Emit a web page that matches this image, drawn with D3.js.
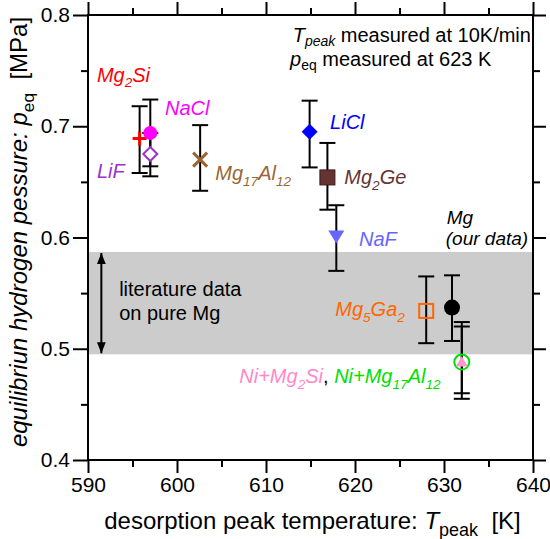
<!DOCTYPE html>
<html>
<head>
<meta charset="utf-8">
<script src="https://cdn.jsdelivr.net/npm/d3@7"></script>
<style>
  html, body { margin: 0; padding: 0; background: #fff; }
  svg text { font-family: "Liberation Sans", Arial, sans-serif; }
</style>
</head>
<body>
<svg id="chart" width="550" height="539"></svg>
<script>
// additives, desorption peak temperature [K] and equilibrium pressure [MPa]
const names = ["Mg2Si", "NaCl", "LiF", "Mg17Al12", "LiCl", "Mg2Ge", "NaF", "Mg5Ga2", "Mg", "Ni+Mg2Si", "Ni+Mg17Al12"];
const tPeak = [595.8, 597.0, 597.0, 602.6, 614.9, 616.9, 617.9, 628.0, 630.9, 632.0, 632.0];
const pEq   = [0.689, 0.694, 0.675, 0.670, 0.695, 0.654, 0.601, 0.534, 0.537, 0.488, 0.488];
const pLow  = [0.658, 0.655, 0.664, 0.642, 0.663, 0.625, 0.570, 0.505, 0.507, 0.460, 0.455];
const pHigh = [0.718, 0.724, 0.694, 0.701, 0.723, 0.685, 0.629, 0.565, 0.566, 0.524, 0.520];

// literature range for pure Mg
const litRange = [0.495, 0.587];

const xTicks = [590, 600, 610, 620, 630, 640];
const xMinor = [595, 605, 615, 625, 635];
const yTicks = [0.4, 0.5, 0.6, 0.7, 0.8];
const yMinor = [0.45, 0.55, 0.65, 0.75];

// marker look per sample
const style = {
  "Mg2Si":       { shape: "plus",     color: "#ff0000" },
  "NaCl":        { shape: "circle",   color: "#ff00ff", r: 7 },
  "LiF":         { shape: "diamondO", color: "#9933cc" },
  "Mg17Al12":    { shape: "cross",    color: "#996633" },
  "LiCl":        { shape: "diamond",  color: "#0000ff" },
  "Mg2Ge":       { shape: "square",   color: "#663333" },
  "NaF":         { shape: "triDown",  color: "#6666ff" },
  "Mg5Ga2":      { shape: "squareO",  color: "#ff6600" },
  "Mg":          { shape: "circle",   color: "#000000", r: 8 },
  "Ni+Mg17Al12": { shape: "circleO",  color: "#00e000" },
  "Ni+Mg2Si":    { shape: "triUp",    color: "#ff99cc" }
};

const svg = d3.select("#chart");
const margin = { top: 15, right: 17, bottom: 79, left: 88 };
const W = 550, H = 539;

const x = d3.scaleLinear().domain([590, 640]).range([margin.left, W - margin.right]);
const y = d3.scaleLinear().domain([0.4, 0.8]).range([H - margin.bottom, margin.top]);

const pBottom = H - margin.bottom, pLeft = margin.left, pRight = W - margin.right, pTop = margin.top;

// grey band
svg.append("rect")
  .attr("x", x(590)).attr("width", x(640) - x(590))
  .attr("y", y(litRange[1])).attr("height", y(litRange[0]) - y(litRange[1]))
  .attr("fill", "#cccccc");

// axes
function styleAxis(g) {
  g.select(".domain").remove();
  g.selectAll(".tick line").attr("stroke", "#000").attr("stroke-width", 2);
  g.selectAll("text").attr("font-size", 21).attr("fill", "#000")
    .attr("font-family", '"Liberation Sans", Arial, sans-serif');
}
svg.append("g").attr("transform", `translate(0,${pBottom})`)
  .call(d3.axisBottom(x).tickValues(xTicks).tickSize(13).tickPadding(4).tickFormat(d3.format("d")))
  .call(styleAxis);
svg.append("g").attr("transform", `translate(0,${pBottom})`)
  .call(d3.axisBottom(x).tickValues(xMinor).tickSize(7).tickFormat(""))
  .call(styleAxis);
svg.append("g").attr("transform", `translate(0,${pTop})`)
  .call(d3.axisTop(x).tickValues(xTicks).tickSize(13).tickFormat(""))
  .call(styleAxis);
svg.append("g").attr("transform", `translate(0,${pTop})`)
  .call(d3.axisTop(x).tickValues(xMinor).tickSize(7).tickFormat(""))
  .call(styleAxis);
svg.append("g").attr("transform", `translate(${pLeft},0)`)
  .call(d3.axisLeft(y).tickValues(yTicks).tickSize(15).tickPadding(3).tickFormat(d3.format(".1f")))
  .call(styleAxis);
svg.append("g").attr("transform", `translate(${pLeft},0)`)
  .call(d3.axisLeft(y).tickValues(yMinor).tickSize(7).tickFormat(""))
  .call(styleAxis);
svg.append("g").attr("transform", `translate(${pRight},0)`)
  .call(d3.axisRight(y).tickValues(yTicks).tickSize(13).tickFormat(""))
  .call(styleAxis);
svg.append("g").attr("transform", `translate(${pRight},0)`)
  .call(d3.axisRight(y).tickValues(yMinor).tickSize(7).tickFormat(""))
  .call(styleAxis);

// frame
svg.append("rect")
  .attr("x", pLeft).attr("y", pTop).attr("width", pRight - pLeft).attr("height", pBottom - pTop)
  .attr("fill", "none").attr("stroke", "#000").attr("stroke-width", 2);

// text helper: parts = [{t, sub, italic, fill}]
function rich(px, py, parts, opts) {
  const fs = opts.size || 20;
  const drop = fs * (opts.drop || 0.28);
  const t = svg.append("text").attr("x", px).attr("y", py)
    .attr("font-size", fs).attr("fill", opts.fill || "#000")
    .attr("text-anchor", opts.anchor || "start")
    .attr("xml:space", "preserve");
  if (opts.italic) t.attr("font-style", "italic");
  if (opts.rotate) t.attr("transform", `rotate(-90,${px},${py})`);
  let shifted = false;
  parts.forEach(p => {
    const s = t.append("tspan").text(p.t);
    if (p.sub && !shifted) { s.attr("dy", drop); shifted = true; }
    if (!p.sub && shifted) { s.attr("dy", -drop); shifted = false; }
    if (p.sub) s.attr("font-size", fs * (p.subSize || 0.68));
    if (p.italic === true) s.attr("font-style", "italic");
    if (p.italic === false) s.attr("font-style", "normal");
    if (p.fill) s.attr("fill", p.fill);
  });
  return t;
}

// axis titles
rich((pLeft + pRight) / 2 + 2, 529, [
  { t: "desorption peak temperature: " },
  { t: "T", italic: true },
  { t: "peak", sub: true, subSize: 0.75 },
  { t: "  [K]" }
], { size: 24, anchor: "middle" });

rich(27, 232, [
  { t: "equilibriun hydrogen pessure: ", italic: true },
  { t: "p", italic: true },
  { t: "eq", sub: true, subSize: 0.72 },
  { t: "  [MPa]" }
], { size: 24, anchor: "middle", rotate: true });

// double arrow for literature range
const arrowT = 591.5;
svg.append("defs").append("marker")
  .attr("id", "ah").attr("viewBox", "0 0 10 10").attr("refX", 10).attr("refY", 5)
  .attr("markerWidth", 11).attr("markerHeight", 11).attr("markerUnits", "userSpaceOnUse")
  .attr("orient", "auto-start-reverse")
  .append("path").attr("d", "M0,1 L10,5 L0,9 Z").attr("fill", "#000");
svg.append("line")
  .attr("x1", x(arrowT)).attr("x2", x(arrowT))
  .attr("y1", y(litRange[1]) + 1).attr("y2", y(litRange[0]) - 1)
  .attr("stroke", "#000").attr("stroke-width", 2)
  .attr("marker-start", "url(#ah)").attr("marker-end", "url(#ah)");

rich(x(593.5), y(0.5474), [{ t: "literature data" }], { size: 20 });
rich(x(593.5), y(0.5258), [{ t: "on pure Mg" }], { size: 20 });

// error bars
const cap = 8;
const bars = svg.append("g").attr("stroke", "#000").attr("stroke-width", 2);
names.forEach((n, i) => {
  const cx = x(tPeak[i]);
  bars.append("line").attr("x1", cx).attr("x2", cx).attr("y1", y(pLow[i])).attr("y2", y(pHigh[i]));
  bars.append("line").attr("x1", cx - cap).attr("x2", cx + cap).attr("y1", y(pLow[i])).attr("y2", y(pLow[i]));
  bars.append("line").attr("x1", cx - cap).attr("x2", cx + cap).attr("y1", y(pHigh[i])).attr("y2", y(pHigh[i]));
});

// markers
const order = ["LiF", "Mg2Si", "NaCl", "Mg17Al12", "LiCl", "Mg2Ge", "NaF", "Mg5Ga2", "Mg", "Ni+Mg17Al12", "Ni+Mg2Si"];
const marks = svg.append("g");
order.forEach(n => {
  const i = names.indexOf(n);
  const cx = x(tPeak[i]), cy = y(pEq[i]);
  const st = style[n];
  const g = marks.append("g").attr("transform", `translate(${cx},${cy})`);
  switch (st.shape) {
    case "plus":
      g.append("path").attr("d", "M-7,0H7M0,-7V7").attr("stroke", st.color).attr("stroke-width", 3);
      break;
    case "cross":
      g.append("path").attr("d", "M-7,-7L7,7M-7,7L7,-7").attr("stroke", st.color).attr("stroke-width", 3);
      break;
    case "circle":
      g.append("circle").attr("r", st.r).attr("fill", st.color);
      break;
    case "circleO":
      g.append("circle").attr("r", 7.5).attr("fill", "none").attr("stroke", st.color).attr("stroke-width", 2);
      break;
    case "diamondO":
      g.append("path").attr("d", "M0,-7L7,0L0,7L-7,0Z").attr("fill", "#fff").attr("stroke", st.color).attr("stroke-width", 2);
      break;
    case "diamond":
      g.append("path").attr("d", "M0,-8L8,0L0,8L-8,0Z").attr("fill", st.color);
      break;
    case "square":
      g.append("rect").attr("x", -7.5).attr("y", -7.5).attr("width", 15).attr("height", 15)
        .attr("fill", st.color).attr("stroke", "#3a1a1a").attr("stroke-width", 1);
      break;
    case "squareO":
      g.append("rect").attr("x", -7).attr("y", -7).attr("width", 14).attr("height", 14)
        .attr("fill", "none").attr("stroke", st.color).attr("stroke-width", 2);
      break;
    case "triDown":
      g.append("path").attr("d", "M-8,-6L8,-6L0,7Z").attr("fill", st.color);
      break;
    case "triUp":
      g.append("path").attr("d", "M-6,4.5L6,4.5L0,-6Z").attr("fill", st.color);
      break;
  }
});

// sample labels
rich(x(591.0), y(0.740), [{ t: "Mg" }, { t: "2", sub: true }, { t: "Si" }], { fill: "#ff0000", italic: true });
rich(x(598.65), y(0.710), [{ t: "NaCl" }], { fill: "#ff00ff", italic: true });
rich(x(591.0), y(0.6535), [{ t: "LiF" }], { fill: "#9933cc", italic: true });
rich(x(604.3), y(0.6517), [{ t: "Mg" }, { t: "17", sub: true }, { t: "Al" }, { t: "12", sub: true }], { fill: "#996633", italic: true });
rich(x(617.2), y(0.6975), [{ t: "LiCl" }], { fill: "#0000ff", italic: true });
rich(x(618.8), y(0.648), [{ t: "Mg" }, { t: "2", sub: true }, { t: "Ge" }], { fill: "#663333", italic: true });
rich(x(620.45), y(0.5924), [{ t: "NaF" }], { fill: "#6666ff", italic: true });
rich(x(625.6), y(0.5294), [{ t: "Mg" }, { t: "5", sub: true }, { t: "Ga" }, { t: "2", sub: true }], { fill: "#ff6600", italic: true, anchor: "end" });
rich(x(630.3), y(0.612), [{ t: "Mg" }], { italic: true, size: 19 });
rich(x(630.2), y(0.5933), [{ t: "(our data)" }], { italic: true, size: 19 });
rich(x(607.0), y(0.4692), [
  { t: "Ni+Mg", fill: "#ff88c8" }, { t: "2", sub: true, fill: "#ff88c8" }, { t: "Si", fill: "#ff88c8" },
  { t: ", ", fill: "#000", italic: false },
  { t: "Ni+Mg", fill: "#00e000" }, { t: "17", sub: true, fill: "#00e000" }, { t: "Al", fill: "#00e000" },
  { t: "12", sub: true, fill: "#00e000" }
], { italic: true });

// measurement notes
rich(x(613.0), y(0.7760), [
  { t: "T", italic: true }, { t: "peak", sub: true, italic: true, subSize: 0.7 }, { t: " measured at 10K/min" }
], { size: 20, drop: 0.22 });
rich(x(612.7), y(0.7545), [
  { t: "p", italic: true }, { t: "eq", sub: true, subSize: 0.7 }, { t: " measured at 623 K" }
], { size: 20, drop: 0.22 });
</script>
</body>
</html>
